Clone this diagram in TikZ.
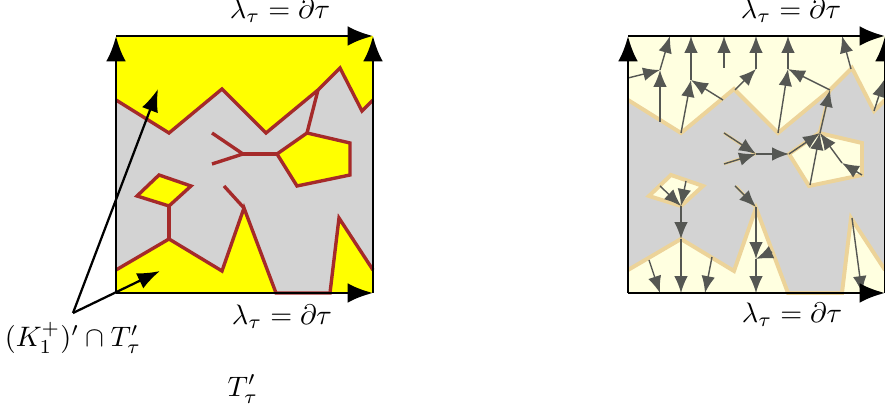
\documentclass[tikz,border=0pt]{standalone}
\usetikzlibrary{arrows.meta}
\definecolor{mybrown}{RGB}{165,42,42}
\definecolor{mytan}{RGB}{236,211,153}
\definecolor{mylightyellow}{RGB}{255,255,224}
\definecolor{myarrow}{RGB}{85,87,83}
\definecolor{mygray}{RGB}{211,211,211}
\definecolor{myyellow}{RGB}{255,255,0}
\tikzset{
  frame/.style={line width=1pt, -{Latex[length=9pt,width=7pt]}},
  pointer/.style={line width=0.8pt, -{Latex[length=8pt,width=6pt]}},
  bound/.style={mybrown, line width=1.2pt, line join=miter},
  tbound/.style={mytan, line width=1.4pt},
  ttree/.style={mytan, line width=1pt},
  flow/.style={myarrow, line width=0.5pt, -{Latex[length=6pt,width=4.8pt]}},
  lbl/.style={inner sep=0pt}
}
\begin{document}
\begin{tikzpicture}[x=0.355pt,y=-0.355pt]
\useasboundingbox (0,0) rectangle (885,410);
% ---------- left panel ----------
\fill[mygray] (116,36) rectangle (373,293);
\fill[myyellow] (116,36) -- (373,36) -- (373,100) -- (362,111) -- (340,68) -- (318,90) -- (266,133) -- (222,89) -- (169,133) -- (116,100) -- cycle;
\fill[myyellow] (307,133) -- (350,143) -- (350,175) -- (297,186) -- (277,154) -- cycle;
\fill[myyellow] (159,175) -- (191,186) -- (169,206) -- (137,196) -- cycle;
\fill[myyellow] (116,270) -- (169,239) -- (222,271) -- (244,208) -- (276,293) -- (116,293) -- cycle;
\fill[myyellow] (330,293) -- (339,218) -- (373,270) -- (373,293) -- cycle;
\draw[bound] (116,100) -- (169,133) -- (222,89) -- (266,133) -- (318,90) -- (340,68) -- (362,111) -- (373,100);
\draw[bound] (318,90) -- (307,133);
\draw[bound] (307,133) -- (350,143) -- (350,175) -- (297,186) -- (277,154) -- cycle;
\draw[bound] (277,154) -- (243,154);
\draw[bound] (212,133) -- (243,154) -- (212,164);
\draw[bound] (159,175) -- (191,186) -- (169,206) -- (137,196) -- cycle;
\draw[bound] (169,206) -- (169,239);
\draw[bound] (116,270) -- (169,239) -- (222,271) -- (244,208) -- (276,293) -- (330,293) -- (339,218) -- (373,270);
\draw[bound] (224,186) -- (244,208);
\coordinate (LBL) at (116,293);
\coordinate (LTL) at (116,36);
\coordinate (LTR) at (373,36);
\coordinate (LBR) at (373,293);
\draw[frame] (LBL) -- (LTL);
\draw[frame] (LTL) -- (LTR);
\draw[frame] (LBR) -- (LTR);
\draw[frame] (LBL) -- (LBR);
\node[lbl] (ltop) at (280,11) {$\lambda_\tau=\partial\tau$};
\node[lbl] (lbot) at (282,317) {$\lambda_\tau=\partial\tau$};
\node[lbl] (klabel) at (73,338) {$(K_1^+)'\cap T'_\tau$};
\node[lbl] (tlabel) at (243,389) {$T'_\tau$};
\coordinate (P0) at (73,313);
\coordinate (P1) at (158,89);
\coordinate (P2) at (160,271);
\draw[pointer] (P0) -- (P1);
\draw[pointer] (P0) -- (P2);
% ---------- right panel ----------
\fill[mygray] (628,36) rectangle (885,293);
\fill[mylightyellow] (628,36) -- (885,36) -- (885,100) -- (874,111) -- (852,68) -- (830,90) -- (778,133) -- (734,89) -- (681,133) -- (628,100) -- cycle;
\fill[mylightyellow] (819,133) -- (862,143) -- (862,175) -- (809,186) -- (789,154) -- cycle;
\fill[mylightyellow] (671,175) -- (703,186) -- (681,206) -- (649,196) -- cycle;
\fill[mylightyellow] (628,270) -- (681,239) -- (734,271) -- (756,208) -- (788,293) -- (628,293) -- cycle;
\fill[mylightyellow] (842,293) -- (851,218) -- (885,270) -- (885,293) -- cycle;
\draw[tbound] (628,100) -- (681,133) -- (734,89) -- (778,133) -- (830,90) -- (852,68) -- (874,111) -- (885,100);
\draw[tbound] (819,133) -- (862,143) -- (862,175) -- (809,186) -- (789,154) -- cycle;
\draw[tbound] (671,175) -- (703,186) -- (681,206) -- (649,196) -- cycle;
\draw[tbound] (628,270) -- (681,239) -- (734,271) -- (756,208) -- (788,293) -- (842,293) -- (851,218) -- (885,270);
\draw[ttree] (830,90) -- (819,133);
\draw[ttree] (789,154) -- (755,154);
\draw[ttree] (724,133) -- (755,154) -- (724,164);
\draw[ttree] (681,206) -- (681,239);
\draw[ttree] (736,186) -- (756,208);
% flow arrows
\foreach \xa/\ya/\xb/\yb in {
  628/78/660/70, 660/122/660/70, 660/70/670/36,
  681/133/691/80, 723/100/691/80, 691/80/691/36,
  724/68/724/36,
  735/90/756/69, 756/69/756/36,
  778/133/788/69, 830/90/788/69, 788/69/788/36,
  851/69/842/36,
  874/111/884/80,
  820/133/830/90,
  789/154/820/133, 810/185/820/133, 862/175/842/163, 842/163/820/133,
  724/133/756/154, 724/164/756/154, 756/154/789/154,
  660/186/681/206, 686/181/681/206, 681/206/681/239, 681/239/681/293,
  649/260/660/293, 712/257/705/293,
  735/186/756/207, 756/207/756/259, 772/252/756/259, 756/259/756/293,
  852/218/862/293}
  \draw[flow] (\xa,\ya) -- (\xb,\yb);
\coordinate (RBL) at (628,293);
\coordinate (RTL) at (628,36);
\coordinate (RTR) at (885,36);
\coordinate (RBR) at (885,293);
\draw[frame] (RBL) -- (RTL);
\draw[frame] (RTL) -- (RTR);
\draw[frame] (RBR) -- (RTR);
\draw[frame] (RBL) -- (RBR);
\node[lbl] (rtop) at (791,11) {$\lambda_\tau=\partial\tau$};
\node[lbl] (rbot) at (792,315) {$\lambda_\tau=\partial\tau$};
\end{tikzpicture}
\end{document}
